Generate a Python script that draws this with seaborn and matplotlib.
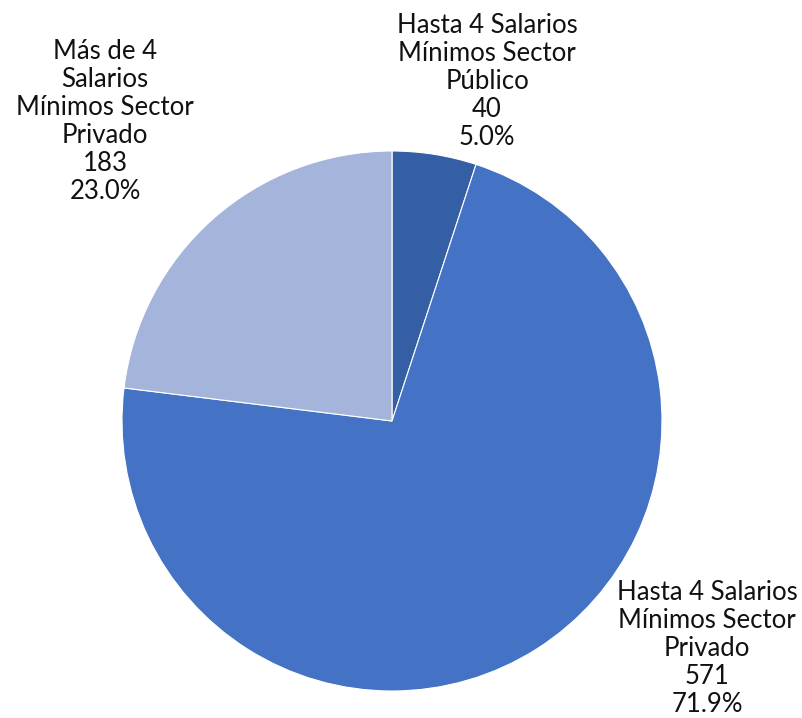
import numpy as np
import matplotlib
matplotlib.use("Agg")
import matplotlib.pyplot as plt
import seaborn as sns

# Datos
categorias = ["Hasta 4 Salarios\nMínimos Sector\nPúblico",
              "Hasta 4 Salarios\nMínimos Sector\nPrivado",
              "Más de 4\nSalarios\nMínimos Sector\nPrivado"]
valores = [40, 571, 183]
colores = ["#355FA5", "#4472C4", "#A5B4DA"]

# posiciones de etiquetas (coordenadas del pastel)
pos_etiquetas = [(0.352, 1.256), (1.167, -0.841), (-1.063, 1.111)]

sns.set_theme(style="white")
plt.rcParams['font.family'] = ['Lato', 'DejaVu Sans']

fig = plt.figure(figsize=(8.03, 7.18), dpi=100)
ax = fig.add_axes([(392 - 270) / 803, (718 - 691) / 718, 540 / 803, 540 / 718])

ax.pie(valores, colors=colores, startangle=90, counterclock=False, radius=1,
       wedgeprops=dict(edgecolor="white", linewidth=0.8))
ax.set_xlim(-1, 1)
ax.set_ylim(-1, 1)
ax.set_aspect("equal")
ax.axis("off")

total = sum(valores)
for cat, val, (x, y) in zip(categorias, valores, pos_etiquetas):
    txt = f"{cat}\n{val}\n{val / total * 100:.1f}%"
    ax.text(x, y, txt, ha="center", va="center", fontsize=18.5,
            linespacing=1.15, color="#111111", clip_on=False)

fig.savefig("out.png", dpi=100)
